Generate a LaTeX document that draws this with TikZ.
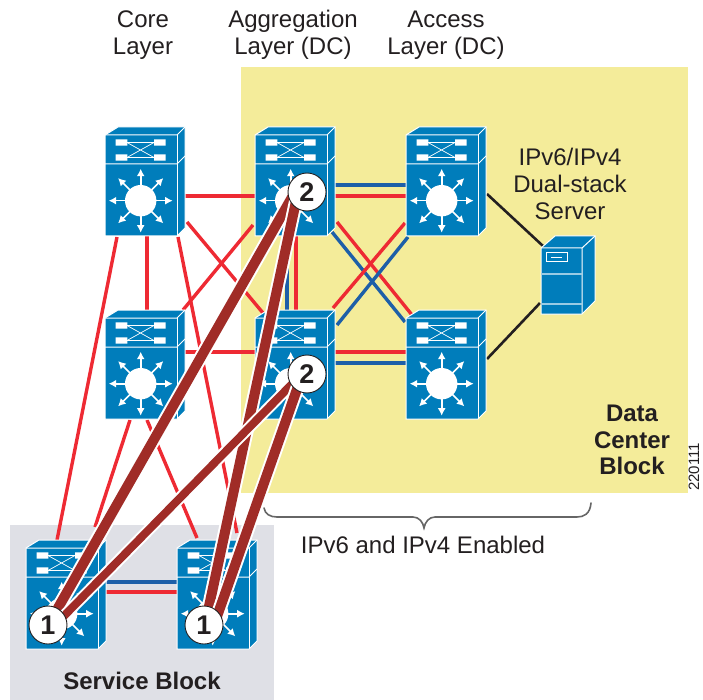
\documentclass[tikz,border=0pt]{standalone}
\usepackage{fontspec}
\setmainfont{Liberation Sans}
\usetikzlibrary{arrows.meta,calc}
\definecolor{swblue}{HTML}{007DBB}
\definecolor{lnred}{HTML}{EE2A33}
\definecolor{lnblue}{HTML}{1D5FA8}
\definecolor{dcyellow}{HTML}{F4EC9A}
\definecolor{sbgray}{HTML}{DFE0E6}
\definecolor{thickbrown}{HTML}{A02C27}
\definecolor{txt}{HTML}{231F20}
\pgfdeclarelayer{bgl}\pgfdeclarelayer{links}\pgfdeclarelayer{devices}\pgfdeclarelayer{thick}
\pgfsetlayers{bgl,links,devices,thick,main}
\tikzset{
 swnode/.style={minimum width=80pt,minimum height=110pt,inner sep=0pt,outer sep=0pt},
 srvnode/.style={minimum width=54pt,minimum height=78pt,inner sep=0pt,outer sep=0pt},
 badge/.style={circle,draw=txt,line width=0.9pt,fill=white,minimum size=38pt,inner sep=0pt,font=\fontsize{27}{27}\selectfont\bfseries,text=txt},
 lbl/.style={font=\fontsize{24}{26.6}\selectfont,text=txt,align=center,inner sep=0pt},
 blbl/.style={font=\fontsize{24}{26.6}\selectfont\bfseries,text=txt,align=center,inner sep=0pt},
 rlink/.style={draw=lnred,line width=3.4pt},
 blink/.style={draw=lnblue,line width=3.4pt},
 klink/.style={draw=txt,line width=2.6pt},
 wl/.style={draw=white,line width=1pt},
 wa/.style={draw=white,line width=1.6pt,-{Latex[length=7.5pt,width=8pt]}},
}
\newcommand{\lnk}[5]{\draw[#1] ([shift={#3}]#2.center) -- ([shift={#5}]#4.center);}
\newcommand{\hvy}[5]{%
 \draw[draw=white,line width=#1pt+4pt] ([shift={#3}]#2.center) -- ([shift={#5}]#4.center);
 \draw[draw=thickbrown,line width=#1pt] ([shift={#3}]#2.center) -- ([shift={#5}]#4.center);}
\newcommand{\mlsdraw}[1]{%
\begin{scope}[shift={(#1.center)}]
 \fill[swblue] (-40,-47) -- (-27,-55) -- (40,-55) -- (40,46) -- (32,54) -- (-40,54) -- cycle;
 \draw[wl] (-40,-47) -- (-27,-55) -- (40,-55) -- (40,46) -- (32,54) -- (-40,54) -- cycle;
 \draw[wl] (-40,-47) -- (32,-47) -- (40,-55);
 \draw[wl] (32,-47) -- (32,54);
 \draw[wl] (-40,-18) -- (32,-18) -- (40,-26);
 \draw[white,line width=0.7pt] (-18,-39.5) -- (9,-39.5) (-18,-24.5) -- (9,-24.5) (-18,-39.5) -- (9,-24.5) (-18,-24.5) -- (9,-39.5);
 \fill[white] (-29.3,-42.7) rectangle (-17.7,-36.3) (-29.3,-27.7) rectangle (-17.7,-21.3)
   (9,-42.7) rectangle (20.7,-36.3) (9,-27.7) rectangle (20.7,-21.3);
 \fill[white] (-4.3,18.7) circle (15.7);
 \foreach \a in {0,45,...,315}
  \draw[wa] ($(-4.3,18.7)+(\a:15)$) -- ($(-4.3,18.7)+(\a:32)$);
\end{scope}}
\begin{document}
\begin{tikzpicture}[x=1pt,y=-1pt]
\useasboundingbox (0,0) rectangle (703,700);
\node[swnode] (core1) at (145,182) {};
\node[swnode] (agg1) at (295,182) {};
\node[swnode] (acc1) at (446,182) {};
\node[swnode] (core2) at (145,365) {};
\node[swnode] (agg2) at (295,365) {};
\node[swnode] (acc2) at (446,365) {};
\node[swnode] (svc1) at (66,595) {};
\node[swnode] (svc2) at (217,595) {};
\node[srvnode] (srv) at (568,275) {};
\node[badge] (b2a) at (307,192) {2};
\node[badge] (b2b) at (307,374) {2};
\node[badge] (b1a) at (48,625) {1};
\node[badge] (b1b) at (204,625) {1};
\begin{pgfonlayer}{bgl}
 \fill[dcyellow] (241,67) rectangle (688,493);
 \fill[sbgray] (10,525) rectangle (274,700);
\end{pgfonlayer}
\begin{pgfonlayer}{links}
 \lnk{rlink}{core1}{(2,0)}{core2}{(2,0)}
 \lnk{rlink}{core1}{(0,14)}{agg1}{(0,14)}
 \lnk{rlink}{core2}{(0,-13)}{agg2}{(0,-13)}
 \lnk{rlink}{core1}{(42,40)}{agg2}{(-32,-52)}
 \lnk{rlink}{core2}{(38,-55)}{agg1}{(-42,43)}
 \lnk{rlink}{core1}{(-28,55)}{svc1}{(-9,-55)}
 \lnk{rlink}{core1}{(33,55)}{svc2}{(20,-62)}
 \lnk{rlink}{core2}{(-15,55)}{svc1}{(29,-68)}
 \lnk{rlink}{core2}{(2,55)}{svc2}{(-20,-57)}
 \lnk{blink}{agg1}{(-8,0)}{agg2}{(-8,0)}
 \lnk{rlink}{agg1}{(1,0)}{agg2}{(1,0)}
 \lnk{blink}{agg1}{(0,3)}{acc1}{(0,3)}
 \lnk{rlink}{agg1}{(0,14)}{acc1}{(0,14)}
 \lnk{rlink}{agg2}{(0,-13)}{acc2}{(0,-13)}
 \lnk{blink}{agg2}{(0,-2)}{acc2}{(0,-2)}
 \lnk{rlink}{agg1}{(42,40)}{acc2}{(-34,-50)}
 \lnk{blink}{agg1}{(37,50)}{acc2}{(-41,-43)}
 \lnk{rlink}{agg2}{(38,-57)}{acc1}{(-41,41)}
 \lnk{blink}{agg2}{(42,-40)}{acc1}{(-38,55)}
 \lnk{klink}{acc1}{(41,12)}{srv}{(-25,-29)}
 \lnk{klink}{acc2}{(41,-6)}{srv}{(-28,28)}
 \lnk{blink}{svc1}{(0,-13)}{svc2}{(0,-13)}
 \lnk{rlink}{svc1}{(0,-3)}{svc2}{(0,-3)}
\end{pgfonlayer}
\begin{pgfonlayer}{devices}
 \mlsdraw{core1}\mlsdraw{agg1}\mlsdraw{acc1}
 \mlsdraw{core2}\mlsdraw{agg2}\mlsdraw{acc2}
 \mlsdraw{svc1}\mlsdraw{svc2}
 \begin{scope}[shift={(srv.center)}]
  \fill[swblue] (-27,-27) -- (-13,-39) -- (27,-39) -- (27,26) -- (14,39) -- (-27,39) -- cycle;
  \draw[wl] (-27,-27) -- (-13,-39) -- (27,-39) -- (27,26) -- (14,39) -- (-27,39) -- cycle;
  \draw[wl] (-27,-27) -- (14,-27) -- (27,-39) (14,-27) -- (14,39);
  \draw[white!60!swblue,line width=1.2pt] (-27,-1) -- (14,-1) (-27,29) -- (14,29);
  \draw[wl] (-22,-22) rectangle (-1,-13);
  \draw[wl] (-17,-17.5) -- (-6,-17.5);
 \end{scope}
\end{pgfonlayer}
\begin{pgfonlayer}{thick}
 \hvy{10}{b2a}{(-12,0)}{b1a}{(2,-3)}
 \hvy{10}{b2a}{(-9,0)}{b1b}{(1,0)}
 \hvy{8}{b2b}{(-14,9)}{b1a}{(12,-5)}
 \hvy{10}{b2b}{(-5,1)}{b1b}{(10,0)}
\end{pgfonlayer}
\draw[draw=black!60,line width=1.6pt,line cap=round] (264,508) .. controls (265,514) and (270,517) .. (277,517) -- (413,517) .. controls (419,517) and (423,522) .. (424,528) .. controls (425,522) and (429,517) .. (435,517) -- (577,517) .. controls (584,517) and (590,514) .. (591,503);
\node[lbl] (t1) at (143,35) {Core\\Layer};
\node[lbl] (t2) at (293,35) {Aggregation\\Layer (DC)};
\node[lbl] (t3) at (446,35) {Access\\Layer (DC)};
\node[lbl] (t4) at (570,184) {IPv6/IPv4\\Dual-stack\\Server};
\node[blbl] (t5) at (632,440) {Data\\Center\\Block};
\node[lbl] (t6) at (423,545) {IPv6 and IPv4 Enabled};
\node[blbl] (t7) at (142,681) {Service Block};
\node[rotate=90,font=\fontsize{15}{15}\selectfont,text=txt,inner sep=0pt] (t8) at (694,467) {220111};
\end{tikzpicture}
\end{document}
